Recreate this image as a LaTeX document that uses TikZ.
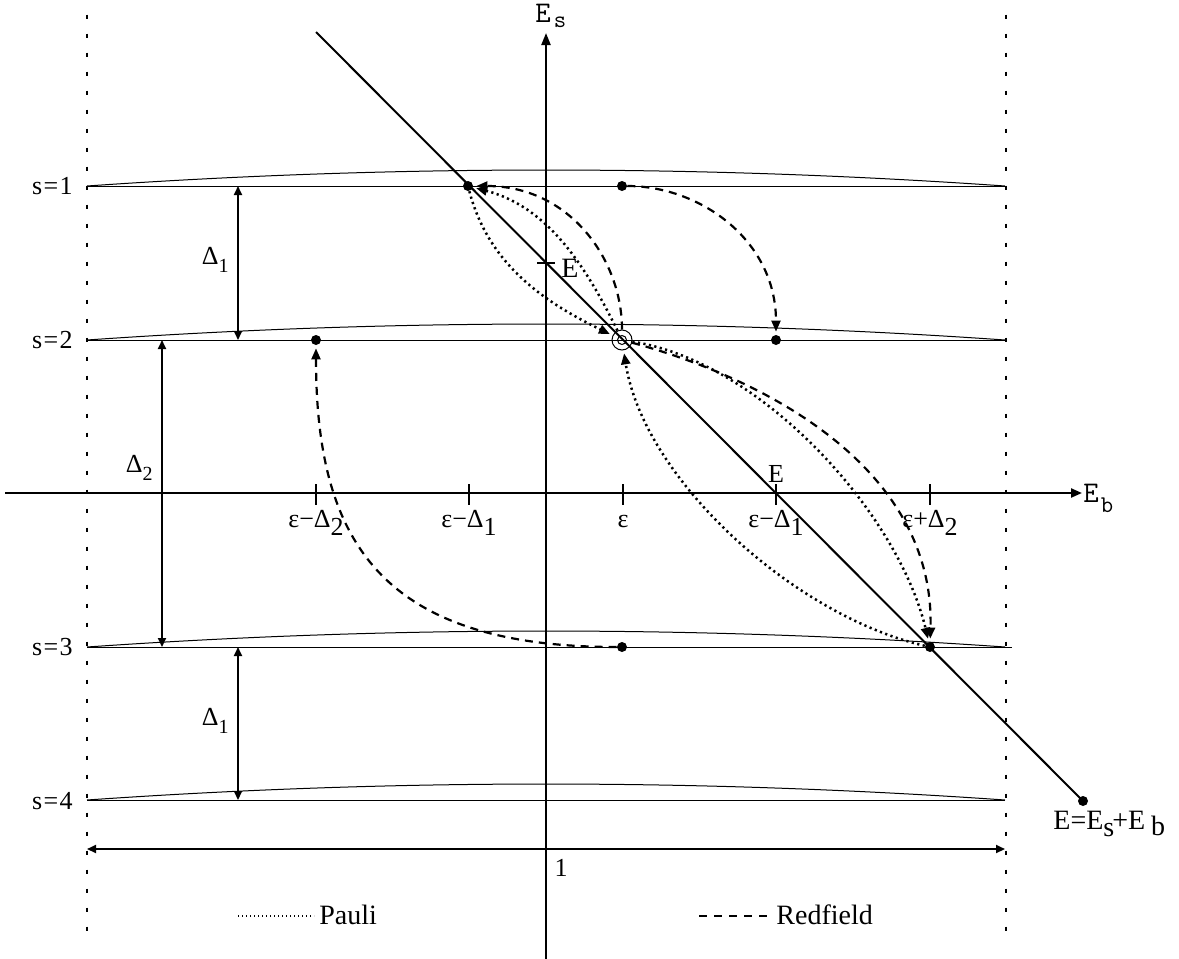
\documentclass[tikz,border=0pt]{standalone}
\usepackage{fontspec}
\setmainfont{Liberation Serif}
\usetikzlibrary{arrows.meta}
\begin{document}
\begin{tikzpicture}[x=0.5pt,y=-0.5pt,
  lvl/.style={line width=0.5pt},
  axisline/.style={line width=1.1pt},
  diagline/.style={line width=1pt},
  bord/.style={line width=1pt,dash pattern=on 2pt off 7.5pt,dash phase=0pt},
  pauli/.style={line width=1.25pt,dash pattern=on 1.1pt off 1.7pt},
  redf/.style={line width=1.1pt,dash pattern=on 4pt off 3pt},
  ctip/.style={-{Triangle[length=5.5pt,width=4.5pt]},shorten >=1.5pt},
  dbl/.style={line width=1pt,{Triangle[length=4.5pt,width=4pt]}-{Triangle[length=4.5pt,width=4pt]}},
  tickline/.style={line width=1pt},
  dot/.style={circle,fill,inner sep=0pt,minimum size=5pt},
  lab/.style={inner sep=0pt,font=\fontsize{13}{14}\selectfont},
  tlab/.style={inner sep=0pt,font=\fontsize{13}{14}\selectfont},
  dlab/.style={inner sep=0pt,font=\fontsize{13}{14}\selectfont},
]
\useasboundingbox (0,0) rectangle (1179,959);
% border dotted lines
\coordinate (LT) at (87,-4.5); \coordinate (LB) at (87,940);
\coordinate (RT) at (1006,-4.5); \coordinate (RB) at (1006,940);
\draw[bord] (LT) -- (LB);
\draw[bord] (RT) -- (RB);
% levels with lens arcs
\foreach \y/\xr in {186/1005,340/1005,647/1012,800/1005}{
  \draw[lvl] (87,\y) -- (\xr,\y);
  \draw[lvl] (87,\y) .. controls (393,\y-21.3) and (699,\y-21.3) .. (1005,\y);
}
% level labels
\node[lab,anchor=east] (s1) at (73,186) {s\hspace{0.05em}=\hspace{0.05em}1};
\node[lab,anchor=east] (s2) at (73,340) {s\hspace{0.05em}=\hspace{0.05em}2};
\node[lab,anchor=east] (s3) at (73,647) {s\hspace{0.05em}=\hspace{0.05em}3};
\node[lab,anchor=east] (s4) at (73,801) {s\hspace{0.05em}=\hspace{0.05em}4};
% axes
\coordinate (EsB) at (546,959); \coordinate (EsT) at (546,33);
\draw[axisline,-{Triangle[length=6pt,width=4.5pt]}] (EsB) -- (EsT);
\coordinate (EbL) at (5,493); \coordinate (EbR) at (1082,493);
\draw[axisline,-{Triangle[length=5.5pt,width=4.5pt]}] (EbL) -- (EbR);
\node[inner sep=0pt,anchor=base west] (Es) at (535,22) {\fontsize{15}{15}\selectfont\ttfamily E\kern1.5pt\raisebox{-2.5pt}{\fontsize{12}{12}\selectfont s}};
\node[inner sep=0pt,anchor=base west] (Eb) at (1083,502) {\fontsize{15}{15}\selectfont\ttfamily E\kern1pt\raisebox{-5pt}{\fontsize{12}{12}\selectfont b}};
% ticks
\foreach \x in {316,469,623,776,930}{\draw[tickline] (\x,484) -- (\x,505);}
\draw[tickline] (537,263) -- (555,263);
\node[tlab,anchor=base] (t1) at (316,527) {ε−Δ\raisebox{-4pt}{2}};
\node[tlab,anchor=base] (t2) at (469,527) {ε−Δ\raisebox{-4pt}{1}};
\node[tlab,anchor=base] (t3) at (623,527) {ε};
\node[tlab,anchor=base] (t4) at (776,527) {ε−Δ\raisebox{-4pt}{1}};
\node[tlab,anchor=base] (t5) at (930,527) {ε+Δ\raisebox{-4pt}{2}};
\node[inner sep=0pt,anchor=base,font=\fontsize{13}{14}\selectfont] (Eax) at (776,482) {E};
\node[inner sep=0pt,anchor=base west,font=\fontsize{14}{15}\selectfont] (Etick) at (561,277) {E};
% diagonal
\node[dot] (H) at (1083,801) {};
\coordinate (Dtop) at (316,32);
\draw[diagline] (Dtop) -- (H.center);
\node[inner sep=0pt,anchor=base west,font=\fontsize{14}{15}\selectfont] (Esum) at (1053,829) {E=E\raisebox{-3.5pt}{s}\kern-1pt+E\kern3pt\raisebox{-3pt}{b}};
% Delta arrows
\coordinate (d1a) at (238,186); \coordinate (d1b) at (238,340);
\coordinate (d2a) at (162,340); \coordinate (d2b) at (162,647);
\coordinate (d3a) at (238,647); \coordinate (d3b) at (238,800);
\draw[dbl] (d1a) -- (d1b);
\draw[dbl] (d2a) -- (d2b);
\draw[dbl] (d3a) -- (d3b);
\node[dlab,anchor=base east] (D1) at (229,264) {Δ\raisebox{-4pt}{\fontsize{10}{10}\selectfont 1}};
\node[dlab,anchor=base east] (D2) at (153,472) {Δ\raisebox{-4pt}{\fontsize{10}{10}\selectfont 2}};
\node[dlab,anchor=base east] (D3) at (229,725) {Δ\raisebox{-4pt}{\fontsize{10}{10}\selectfont 1}};
% width arrow
\coordinate (wL) at (87,849); \coordinate (wR) at (1005,849);
\draw[dbl] (wL) -- (wR);
\node[inner sep=0pt,anchor=base,font=\fontsize{13}{14}\selectfont] (one) at (561,876) {1};
% state dots
\node[dot] (A) at (468,186) {};
\node[dot] (P1) at (622,186) {};
\node[dot] (C) at (316,340) {};
\node[dot] (D) at (776,340) {};
\node[dot] (F) at (622,647) {};
\node[dot] (G) at (930,647) {};
\node[circle,draw,line width=0.5pt,minimum size=10pt,inner sep=0pt] (B) at (622,340) {};
\node[circle,draw,line width=0.5pt,minimum size=4.5pt,inner sep=0pt] (Bi) at (622,340) {};
% transitions
\draw[redf,ctip] (P1) .. controls (700,186) and (776,240) .. (D);
\draw[redf,ctip] (B) .. controls (622,260) and (570,186) .. (A);
\draw[pauli,ctip] (A) .. controls (488,262) and (540,300) .. (B);
\draw[pauli,ctip] (B) .. controls (582,258) and (544,206) .. (A);
\draw[redf,ctip] (B) .. controls (770,380) and (935,470) .. (G);
\draw[pauli,ctip] (B) .. controls (762,362) and (898,513) .. (G);
\draw[pauli,ctip] (G) .. controls (795,616) and (644,480) .. (B);
\draw[redf,ctip] (F) .. controls (380,647) and (316,540) .. (C);
% legend
\coordinate (pa) at (238,916); \coordinate (pb) at (314,916);
\draw[line width=0.8pt,dash pattern=on 0.7pt off 1.3pt] (pa) -- (pb);
\node[inner sep=0pt,anchor=base west,font=\fontsize{14}{15}\selectfont] (pauliT) at (319,924) {Pauli};
\coordinate (ra) at (699,916); \coordinate (rb) at (768,916);
\draw[line width=1pt,dash pattern=on 4pt off 3.5pt] (ra) -- (rb);
\node[inner sep=0pt,anchor=base west,font=\fontsize{14}{15}\selectfont] (redT) at (776,924) {Redfield};
\end{tikzpicture}
\end{document}
